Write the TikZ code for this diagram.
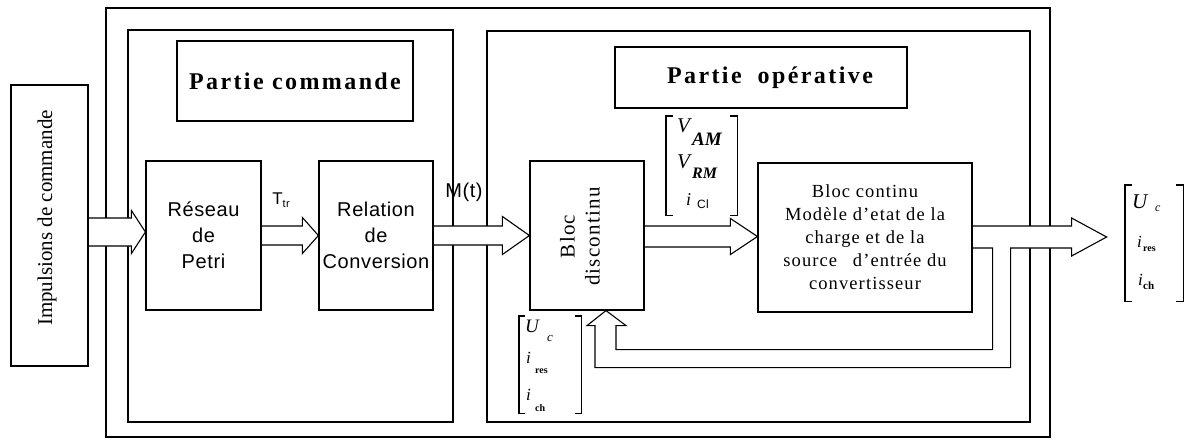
\documentclass[tikz,border=0pt]{standalone}
\usepackage{fontspec}
\setmainfont{Liberation Serif}
\newfontfamily\sansf[LetterSpace=3]{Liberation Sans}
\newfontfamily\titlef[LetterSpace=10]{Liberation Serif}
\newfontfamily\serifls[LetterSpace=6]{Liberation Serif}
\usetikzlibrary{calc,backgrounds}
\tikzset{
  frame/.style={draw, line width=2.6pt, inner sep=0pt},
  blk/.style={draw, line width=1.2pt, inner sep=0pt, align=center},
  ttl/.style={draw, line width=1.5pt, inner sep=0pt},
  barrow/.style={draw, fill=white, line width=1.1pt, line join=miter},
  brk/.style={line width=1.4pt},
  ent/.style={anchor=base west, inner sep=0pt},
  grp/.style={inner sep=0pt}
}
\newcommand\harr[6]{%
  \path[barrow] let \p1=(#1), \p2=(#2), \p3=(0,#3) in
    (\x1+0.6pt,\y3+#4) -- (\x2-#6,\y3+#4) -- (\x2-#6,\y3+#5) -- (\x2,\y3)
    -- (\x2-#6,\y3-#5) -- (\x2-#6,\y3-#4) -- (\x1+0.6pt,\y3-#4);}
\newcommand\brackets[2]{%
  \draw[brk] ($(#1.north west)+(#2,0)$) -- (#1.north west) -- (#1.south west) -- ($(#1.south west)+(#2,0)$);
  \draw[brk] ($(#1.north east)+(-#2,0)$) -- (#1.north east) -- (#1.south east) -- ($(#1.south east)+(-#2,0)$);}
\begin{document}
\begin{tikzpicture}[x=1pt,y=-1pt]
\useasboundingbox (0,0) rectangle (1187,442);
\begin{pgfonlayer}{background}
  \node[frame, minimum width=944pt, minimum height=429pt] (outer) at (578,222.5) {};
  \node[frame, minimum width=325pt, minimum height=392pt] (fl) at (290.5,226) {};
  \node[frame, minimum width=543pt, minimum height=391pt] (fr) at (758.5,226.5) {};
\end{pgfonlayer}

% titles
\node[ttl, minimum width=236pt, minimum height=80pt] (tc) at (295,81)
  {\titlef\bfseries\fontsize{24}{24}\selectfont Partie commande};
\node[ttl, minimum width=292pt, minimum height=61pt] (to) at (761,77.5)
  {\titlef\bfseries\fontsize{24}{24}\selectfont\hspace*{18pt}Partie\hspace{16pt}opérative};

% blocks
\node[blk, minimum width=77pt, minimum height=281pt] (imp) at (49.5,225.5) {};
\node[rotate=90, inner sep=0pt, font=\fontsize{21}{21}\selectfont] (impt) at (47,218) {Impulsions de commande};

\node[blk, minimum width=115pt, minimum height=149pt, font=\sansf\fontsize{20}{26}\selectfont] (pet) at (203.5,235.5) {Réseau\\de\\Petri};
\node[blk, minimum width=114pt, minimum height=149pt, font=\sansf\fontsize{20}{26}\selectfont] (rel) at (376,235.5) {Relation\\de\\Conversion};
\node[blk, minimum width=114pt, minimum height=149pt] (bd) at (587,235.5) {};
\node[rotate=90, align=center, inner sep=0pt, font=\serifls\fontsize{21}{25}\selectfont] (bdt) at ($(bd.center)+(-7,1)$) {Bloc\\discontinu};
\node[blk, minimum width=214pt, minimum height=149pt, font=\serifls\fontsize{18.5}{23}\selectfont] (bc) at (865,237.5)
  {Bloc continu\\Modèle d’etat de la\\charge et de la\\source\hspace{10pt} d’entrée du\\convertisseur};

% labels
\node[inner sep=0pt, font=\sansf\fontsize{17}{17}\selectfont] (ttr) at (281,200) {T\raisebox{-3pt}{\fontsize{11}{11}\selectfont tr}};
\node[inner sep=0pt, font=\sansf\fontsize{20}{20}\selectfont] (mt) at (464,192) {M(t)};

% arrows
\harr{imp.east}{pet.west}{232}{14pt}{21.5pt}{14pt}
\harr{pet.east}{rel.west}{235.5}{9.5pt}{18pt}{16pt}
\harr{rel.east}{bd.west}{235.5}{9.5pt}{19pt}{27pt}
\harr{bd.east}{bc.west}{236.5}{10.5pt}{18pt}{27pt}
% output arrow with feedback branch
\path[barrow] let \p1=(bc.east), \p2=(bd.south), \p3=(0,237) in
  (\x1+0.6pt,\y3+11pt) -- (\x1+99pt,\y3+11pt) -- (\x1+99pt,\y3+19pt) -- (\x1+134pt,\y3)
  -- (\x1+99pt,\y3-19pt) -- (\x1+99pt,\y3-11pt) -- (\x1+38pt,\y3-11pt)
  -- (\x1+38pt,\y2-57pt) -- (\x2+8pt,\y2-57pt) -- (\x2+8pt,\y2-15pt) -- (\x2,\y2-15pt)
  -- (\x2+19pt,\y2) -- (\x2+39pt,\y2-15pt) -- (\x2+29pt,\y2-15pt) -- (\x2+29pt,\y2-39pt)
  -- (\x1+20pt,\y2-39pt) -- (\x1+20pt,\y3-11pt) -- (\x1+0.6pt,\y3-11pt);

% matrix V
\node[grp, minimum width=71pt, minimum height=99pt] (mv) at (701.5,165.5) {};
\brackets{mv}{7}
\node[ent, font=\fontsize{21}{21}\selectfont\itshape] (v1) at (677,132) {V};
\node[ent, font=\fontsize{19}{19}\selectfont\bfseries\itshape] (v1s) at (692,145) {AM};
\node[ent, font=\fontsize{21}{21}\selectfont\itshape] (v2) at (677,168) {V};
\node[ent, font=\fontsize{16}{16}\selectfont\bfseries\itshape] (v2s) at (692,178) {RM};
\node[ent, font=\fontsize{18}{18}\selectfont\itshape] (v3) at (686,205) {i};
\node[ent, font=\sansf\fontsize{12}{12}\selectfont] (v3s) at (697,208) {Cl};

% matrix U (feedback)
\node[grp, minimum width=62pt, minimum height=97pt] (mu) at (550,364.5) {};
\brackets{mu}{6}
\node[ent, font=\fontsize{19}{19}\selectfont\itshape] (u1) at (525,332) {U};
\node[ent, font=\fontsize{13}{13}\selectfont\itshape] (u1s) at (547,341) {c};
\node[ent, font=\fontsize{17}{17}\selectfont\itshape] (u2) at (526,363) {i};
\node[ent, font=\fontsize{10}{10}\selectfont\bfseries] (u2s) at (535,373) {res};
\node[ent, font=\fontsize{17}{17}\selectfont\itshape] (u3) at (526,400) {i};
\node[ent, font=\fontsize{10}{10}\selectfont\bfseries] (u3s) at (535,411) {ch};

% matrix output
\node[grp, minimum width=58pt, minimum height=116pt] (mo) at (1154,243) {};
\brackets{mo}{7}
\node[ent, font=\fontsize{21}{21}\selectfont\itshape] (o1) at (1132,208) {U};
\node[ent, font=\fontsize{12}{12}\selectfont\itshape] (o1s) at (1155,211) {c};
\node[ent, font=\fontsize{17}{17}\selectfont\itshape] (o2) at (1137,247) {i};
\node[ent, font=\fontsize{10}{10}\selectfont\bfseries] (o2s) at (1143,251) {res};
\node[ent, font=\fontsize{17}{17}\selectfont\itshape] (o3) at (1138,285) {i};
\node[ent, font=\fontsize{11}{11}\selectfont\bfseries] (o3s) at (1143,289) {ch};
\end{tikzpicture}
\end{document}
